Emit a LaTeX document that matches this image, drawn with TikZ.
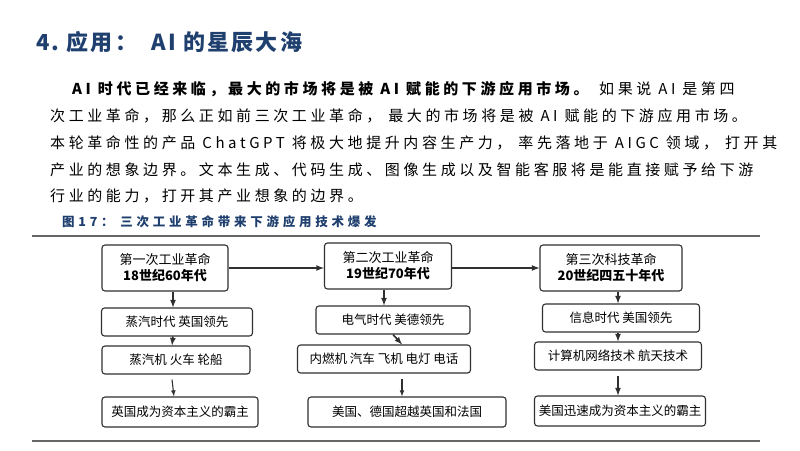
\documentclass[tikz,border=0pt]{standalone}
\usepackage{fontspec}
\setmainfont{Noto Sans CJK SC}
\definecolor{ttl}{HTML}{1F3F6E}
\definecolor{frm}{HTML}{303030}
\begin{document}
\begin{tikzpicture}[x=1pt,y=-1pt,
  bx/.style={draw=frm,line width=1.1pt,rounded corners=3pt,inner sep=0pt,font=\fontsize{12.5}{14}\selectfont},
  hd/.style={bx,font=\fontsize{13}{16}\selectfont},
  ar/.style={-latex,line width=1.6pt,draw=frm},
  body/.style={anchor=west,inner sep=0pt,font=\fontsize{15}{17}\selectfont\addfontfeature{LetterSpace=24}}]
\useasboundingbox (0,0) rectangle (800,450);
\node[anchor=west,inner sep=0pt,text=ttl,font=\fontsize{22}{25}\selectfont\bfseries\addfontfeature{LetterSpace=10}] (title) at (36,42) {4.\ 应用：\ \ AI 的星辰大海};
\node[body] (l1) at (72,89) {\textbf{AI 时代已经来临，最大的市场将是被 AI 赋能的下游应用市场。} 如果说 AI 是第四};
\node[body] (l2) at (50,116) {次工业革命，那么正如前三次工业革命，\ 最大的市场将是被 AI 赋能的下游应用市场。};
\node[body] (l3) at (50,143) {本轮革命性的产品 ChatGPT 将极大地提升内容生产力，\ 率先落地于 AIGC 领域，\ 打开其};
\node[body] (l4) at (50,170) {产业的想象边界。文本生成、代码生成、图像生成以及智能客服将是能直接赋予给下游};
\node[body] (l5) at (50,196) {行业的能力，打开其产业想象的边界。};
\node[anchor=west,inner sep=0pt,text=ttl,font=\fontsize{12.5}{14}\selectfont\bfseries\addfontfeature{LetterSpace=30}] (cap) at (62,222) {图17：\ 三次工业革命带来下游应用技术爆发};
\coordinate (t1) at (32,236); \coordinate (t2) at (760,236);
\coordinate (b1) at (32,441); \coordinate (b2) at (760,441);
\draw[line width=1.2pt,draw=gray!80!black] (t1) -- (t2);
\draw[line width=1.2pt,draw=gray!80!black] (b1) -- (b2);
% row 1
\node[hd,minimum width=126pt,minimum height=46pt,align=center] (a1) at (165,268) {第一次工业革命\\\textbf{18世纪60年代}};
\node[hd,minimum width=127pt,minimum height=46pt,align=center] (b1n) at (388,266) {第二次工业革命\\\textbf{19世纪70年代}};
\node[hd,minimum width=142pt,minimum height=46pt,align=center] (c1) at (611,268) {第三次科技革命\\\textbf{20世纪四五十年代}};
% row 2
\node[bx,minimum width=151pt,minimum height=28pt] (a2) at (177,322) {蒸汽时代\ 英国领先};
\node[bx,minimum width=154pt,minimum height=28pt] (b2n) at (393,320) {电气时代 美德领先};
\node[bx,minimum width=157pt,minimum height=28pt] (c2) at (621,318) {信息时代 美国领先};
% row 3
\node[bx,minimum width=148pt,minimum height=28pt] (a3) at (176,360) {蒸汽机\ 火车\ 轮船};
\node[bx,minimum width=173pt,minimum height=28pt] (b3) at (384,359) {内燃机\ 汽车\ 飞机\ 电灯\ 电话};
\node[bx,minimum width=167pt,minimum height=28pt] (c3) at (618,356) {计算机网络技术\ 航天技术};
% row 4
\node[bx,minimum width=156pt,minimum height=30pt] (a4) at (180,412) {英国成为资本主义的霸主};
\node[bx,minimum width=198pt,minimum height=30pt] (b4) at (407,412) {美国、德国超越英国和法国};
\node[bx,minimum width=171pt,minimum height=30pt] (c4) at (620,411) {美国迅速成为资本主义的霸主};
% arrows
\draw[ar] (a1.east) -- (b1n.west|-a1.east);
\draw[ar] (b1n.east|-a1.east) -- (c1.west);
\draw[ar] (a1.south-|a2) ++(-4,0) -- ([xshift=-4pt]a2.north);
\draw[ar] ([xshift=-4pt]a2.south) -- ([xshift=-4pt]a3.north);
\draw[ar,line width=1.1pt] ([xshift=-4pt,yshift=-5pt]a3.south) -- ([xshift=-6pt]a4.north);
\draw[ar] ([xshift=-9pt]b1n.south-|b2n) -- ([xshift=-9pt]b2n.north);
\draw[ar] ([xshift=9pt]b2n.south-|b3) -- ([xshift=18pt]b3.north);
\draw[ar,line width=1.1pt] ([xshift=18pt,yshift=-5pt]b3.south) -- ([xshift=-5pt]b4.north);
\draw[ar] ([xshift=-3pt]c1.south-|c2) -- ([xshift=-3pt]c2.north);
\draw[ar] ([xshift=-3pt]c2.south) -- ([xshift=0pt]c3.north);
\draw[ar] ([xshift=0pt,yshift=-5pt]c3.south) -- ([xshift=-2pt]c4.north);
\end{tikzpicture}
\end{document}
